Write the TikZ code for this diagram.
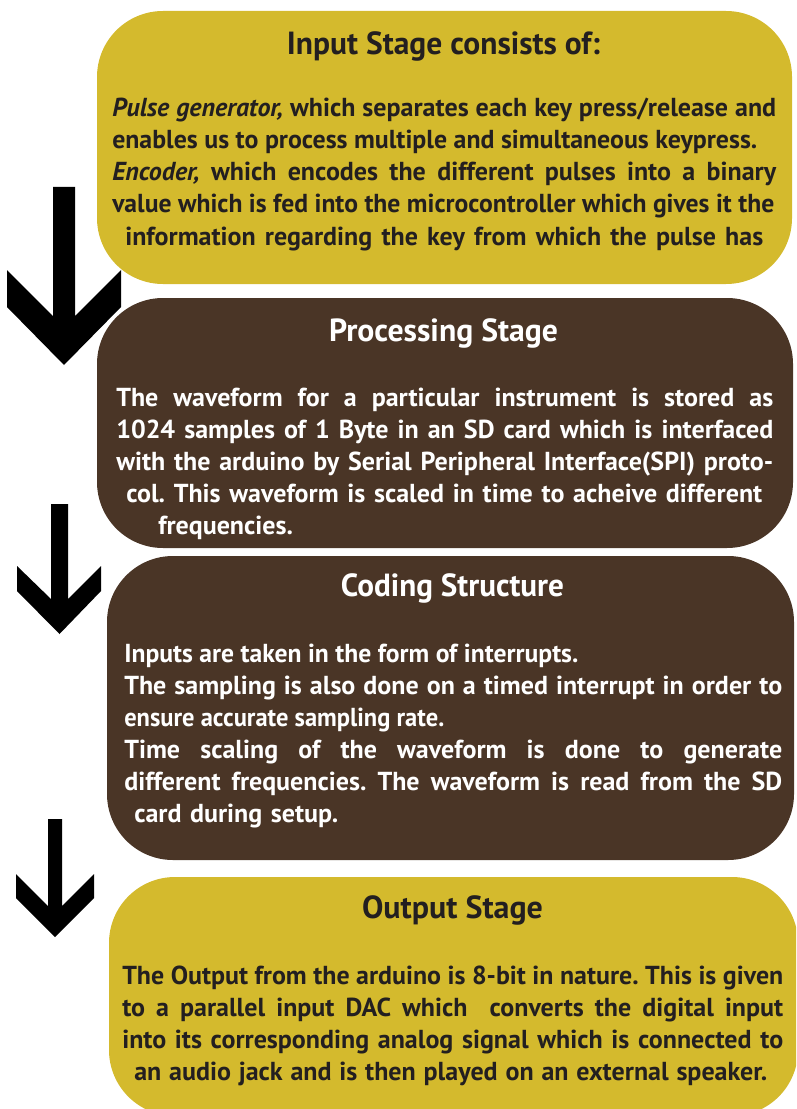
\documentclass[tikz,border=0pt]{standalone}
\usepackage{graphicx}
\usepackage{fontspec}
\setmainfont{PT Sans}
\frenchspacing

\definecolor{ochre}{HTML}{D4BA2D}
\definecolor{umber}{HTML}{4A3526}
\definecolor{ink}{HTML}{231F20}

% one unit of the drawing grid
\newdimen\pxu \pxu=0.75pt

% set a line to an exact width: stretch its spaces, or squeeze it if too long
\newcommand\spreadline[2]{\setbox0=\hbox{#2}%
  \ifdim\wd0>#1\relax\resizebox{#1}{\height}{#2}\else\makebox[#1][s]{#2}\fi}

\tikzset{
  stagebox/.style={rectangle, rounded corners=49.5pt, inner sep=0pt, outer sep=0pt},
  ochrebox/.style={stagebox, fill=ochre},
  umberbox/.style={stagebox, fill=umber},
  blockarrow/.style={fill=black},
  heading/.style={font=\bfseries\fontsize{24}{28}\selectfont, inner sep=0pt, anchor=base},
  body/.style={font=\bfseries\fontsize{19.5}{24}\selectfont, inner sep=0pt, anchor=base west},
  dark/.style={text=ink},
  light/.style={text=white}
}

\begin{document}
\begin{tikzpicture}[x=0.75pt, y=-0.75pt]
\useasboundingbox (0,0) rectangle (796,1109);
\clip (0,0) rectangle (796,1109);

% block arrows between the stages (drawn first, the boxes overlap them)
\coordinate (a1) at (64,187);
\fill[blockarrow] (53,187) -- (75,187) -- (75,316) -- (121,270) -- (121,307)
  -- (64,365) -- (7,307) -- (7,270) -- (53,316) -- cycle;
\coordinate (a2) at (59.5,504);
\fill[blockarrow] (51,504) -- (68,504) -- (68,599) -- (101,566) -- (101,591)
  -- (59.5,634) -- (17,591) -- (17,566) -- (51,599) -- cycle;
\coordinate (a3) at (55,819);
\fill[blockarrow] (48,819) -- (62,819) -- (62,906) -- (94,874) -- (94,898)
  -- (55,937) -- (16,898) -- (16,874) -- (48,906) -- cycle;

% stage boxes
\node[ochrebox, minimum width=521.25pt, minimum height=204.75pt] (input) at (444.5,147.5) {};
\node[umberbox, minimum width=522pt, minimum height=187.5pt] (proc) at (445,423) {};
\node[umberbox, minimum width=515.25pt, minimum height=228pt] (code) at (450.5,708) {};
\node[ochrebox, minimum width=516.75pt, minimum height=179.25pt] (output) at (453.5,996.5) {};

% Input stage
\node[heading,dark] (inH) at (443.5,55) {\spreadline{313\pxu}{Input Stage consists of:}};
\node[body,dark] (in1) at (112,117) {\spreadline{664\pxu}{\textit{Pulse generator,} which separates each key press/release and}};
\node[body,dark] (in2) at (112,149) {\spreadline{645\pxu}{enables us to process multiple and simultaneous keypress.}};
\node[body,dark] (in3) at (112,181) {\spreadline{664\pxu}{\textit{Encoder,} which encodes the different pulses into a binary}};
\node[body,dark] (in4) at (112,213) {\spreadline{662\pxu}{value which is fed into the microcontroller which gives it the}};
\node[body,dark] (in5) at (125,245) {\spreadline{638\pxu}{information regarding the key from which the pulse has}};

% Processing stage
\node[heading,light] (prH) at (443.5,341) {\spreadline{229\pxu}{Processing Stage}};
\node[body,light] (pr1) at (116,406) {\spreadline{657\pxu}{The waveform for a particular instrument is stored as}};
\node[body,light] (pr2) at (116,438) {\spreadline{657\pxu}{1024 samples of 1 Byte in an SD card which is interfaced}};
\node[body,light] (pr3) at (116,470) {\spreadline{657\pxu}{with the arduino by Serial Peripheral Interface(SPI) proto-}};
\node[body,light] (pr4) at (126,502) {\spreadline{636\pxu}{col. This waveform is scaled in time to acheive different}};
\node[body,light] (pr5) at (158,534) {\spreadline{135\pxu}{frequencies.}};

% Coding structure
\node[heading,light] (coH) at (452.5,596) {\spreadline{223\pxu}{Coding Structure}};
\node[body,light] (co1) at (124,662) {\spreadline{454\pxu}{Inputs are taken in the form of interrupts.}};
\node[body,light] (co2) at (124,694) {\spreadline{658\pxu}{The sampling is also done on a timed interrupt in order to}};
\node[body,light] (co3) at (124,726) {\spreadline{320\pxu}{ensure accurate sampling rate.}};
\node[body,light] (co4) at (124,758) {\spreadline{658\pxu}{Time scaling of the waveform is done to generate}};
\node[body,light] (co5) at (124,790) {\spreadline{658\pxu}{different frequencies. The waveform is read from the SD}};
\node[body,light] (co6) at (134,822) {\spreadline{204\pxu}{card during setup.}};

% Output stage
\node[heading,dark] (ouH) at (452.5,918) {\spreadline{181\pxu}{Output Stage}};
\node[body,dark] (ou1) at (122,984) {\spreadline{661\pxu}{The Output from the arduino is 8-bit in nature. This is given}};
\node[body,dark] (ou2) at (122,1016) {\spreadline{661\pxu}{to a parallel input DAC which\ \ converts the digital input}};
\node[body,dark] (ou3) at (122,1048) {\spreadline{661\pxu}{into its corresponding analog signal which is connected to}};
\node[body,dark] (ou4) at (134,1080) {\spreadline{633\pxu}{an audio jack and is then played on an external speaker.}};
\end{tikzpicture}
\end{document}
